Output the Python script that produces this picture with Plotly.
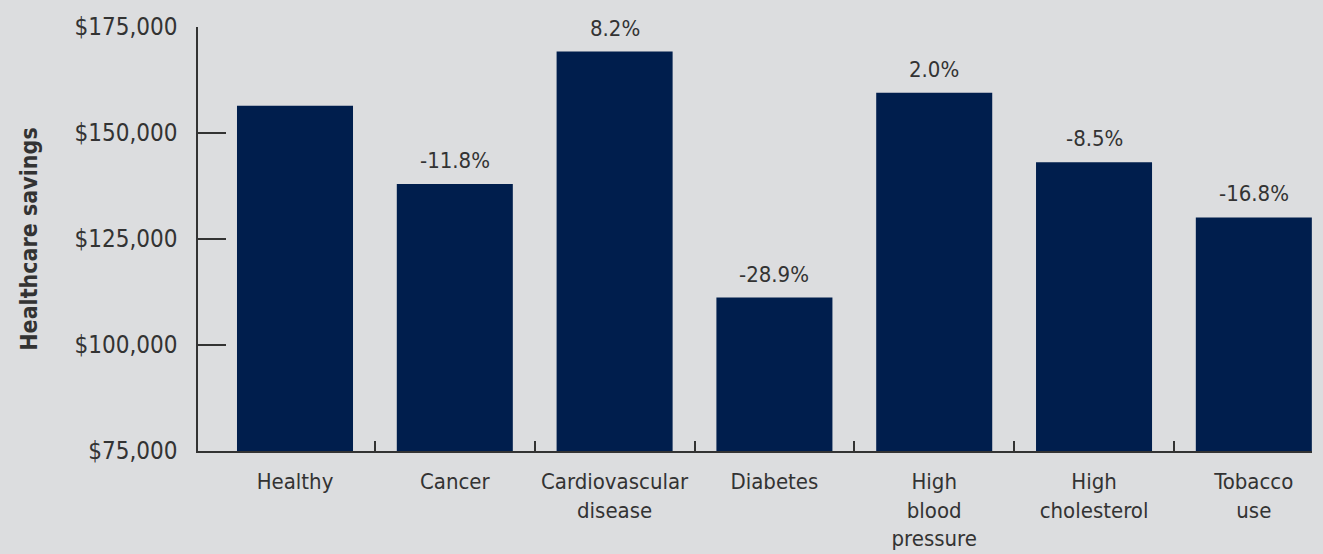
import plotly.graph_objects as go

categories = ["Healthy", "Cancer", "Cardiovascular<br>disease", "Diabetes",
              "High<br>blood<br>pressure", "High<br>cholesterol", "Tobacco<br>use"]
savings = [156400, 138000, 169200, 111200, 159500, 143100, 130100]
change_labels = ["", "-11.8%", "8.2%", "-28.9%", "2.0%", "-8.5%", "-16.8%"]
y_ticks = [75000, 100000, 125000, 150000, 175000]

FONT = "DejaVu Sans Condensed, Open Sans, sans-serif"
TXT = "#333333"
BG = "#dcdddf"

x_range = [-0.607, 6.364]

fig = go.Figure()
fig.add_trace(go.Bar(
    x=categories, y=savings,
    marker=dict(color="#001e4d", line=dict(width=0)),
    showlegend=False,
))

# percentage change labels above the bars
for cat, val, lab in zip(categories, savings, change_labels):
    if lab:
        fig.add_annotation(x=cat, y=val, text=lab, showarrow=False,
                           yanchor="bottom", yshift=9,
                           font=dict(family=FONT, size=22, color=TXT))

# invisible trace on the overlay axis so the boundary ticks get drawn
fig.add_trace(go.Scatter(x=[0], y=[75000], xaxis="x2", mode="markers",
                         marker=dict(opacity=0), showlegend=False, hoverinfo="skip"))

fig.update_layout(
    width=1323, height=554,
    paper_bgcolor=BG, plot_bgcolor=BG,
    margin=dict(l=198, r=11, t=27, b=103),
    bargap=0.274,
    font=dict(family=FONT, color=TXT),
    xaxis=dict(
        type="category", range=x_range, automargin=False,
        showline=True, linecolor="#333333", linewidth=1.5,
        ticks="", tickfont=dict(family=FONT, size=22, color=TXT),
        ticklabelstandoff=10,
        showgrid=False,
    ),
    xaxis2=dict(
        overlaying="x", side="bottom", range=x_range, automargin=False,
        tickvals=[0.5, 1.5, 2.5, 3.5, 4.5, 5.5, 6.364],
        ticktext=[""] * 7, ticks="inside", ticklen=10, tickwidth=1.5,
        tickcolor="#333333", showgrid=False, showline=False, zeroline=False,
    ),
    yaxis=dict(
        range=[75000, 175000], tickvals=y_ticks, automargin=False,
        tickformat="$,.0f",
        ticks="inside", ticklen=28, tickwidth=1.5, tickcolor="#333333",
        showline=True, linecolor="#333333", linewidth=1.5,
        showgrid=False, zeroline=False,
        tickfont=dict(family=FONT, size=24, color=TXT),
        ticklabelstandoff=14,
        title=dict(text="<b>Healthcare savings</b>", standoff=30,
                   font=dict(family=FONT, size=23, color=TXT)),
    ),
)

fig.write_html(
    "out.html",
    config={"displayModeBar": False},
    post_script="document.body.style.margin='0';document.body.style.background='#dcdddf';",
)
